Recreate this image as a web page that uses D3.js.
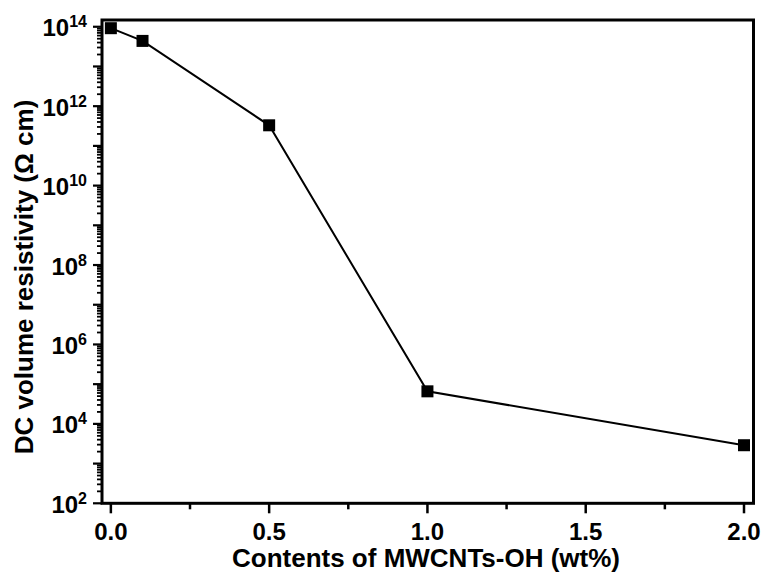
<!DOCTYPE html>
<html>
<head>
<meta charset="utf-8">
<script src="https://cdn.jsdelivr.net/npm/d3@7"></script>
<style>
  body { margin: 0; background: #fff; }
  text { font-family: "Liberation Sans", Arial, sans-serif; font-weight: bold; fill: #000; }
</style>
</head>
<body>
<svg width="765" height="572"></svg>
<script>
// data
const contents = [0.0, 0.1, 0.5, 1.0, 2.0];
const resistivity = [9.2e13, 4.4e13, 3.3e11, 6.6e4, 2.9e3];
const xTicks = [0.0, 0.5, 1.0, 1.5, 2.0];
const xMinor = [0.25, 0.75, 1.25, 1.75];
const yLabelExp = [2, 4, 6, 8, 10, 12, 14];

const svg = d3.select("svg");
const mLeft = 102, mRight = 753.5, mTop = 20, mBottom = 503.3;

const x = d3.scaleLinear().domain([-0.028, 2.03]).range([mLeft, mRight]);
const y = d3.scaleLog().domain([1e2, Math.pow(10, 14.17)]).range([mBottom, mTop]);

// y ticks: every decade long, 2..9 short
const yMajor = d3.range(2, 15).map(e => Math.pow(10, e));
const yMinor = [];
for (let e = 2; e < 15; e++) {
  for (let m = 2; m <= 9; m++) {
    const v = m * Math.pow(10, e);
    if (v <= y.domain()[1]) yMinor.push(v);
  }
}

const g = svg.append("g");

g.selectAll(".ymaj").data(yMajor).enter().append("line")
  .attr("x1", mLeft - 9).attr("x2", mLeft)
  .attr("y1", d => y(d)).attr("y2", d => y(d))
  .attr("stroke", "#000").attr("stroke-width", 2.2);

g.selectAll(".ymin").data(yMinor).enter().append("line")
  .attr("x1", mLeft - 5).attr("x2", mLeft)
  .attr("y1", d => y(d)).attr("y2", d => y(d))
  .attr("stroke", "#000").attr("stroke-width", 1.8);

// y tick labels with superscripts
const yl = g.selectAll(".ylab").data(yLabelExp).enter().append("text")
  .attr("text-anchor", "end")
  .attr("x", mLeft - 15)
  .attr("y", d => y(Math.pow(10, d)) + 9.5)
  .style("font-size", "24px");
yl.append("tspan").text("10");
yl.append("tspan").attr("dy", -9).style("font-size", "16px").text(d => d);

// x ticks
g.selectAll(".xmaj").data(xTicks).enter().append("line")
  .attr("x1", d => x(d)).attr("x2", d => x(d))
  .attr("y1", mBottom).attr("y2", mBottom + 10)
  .attr("stroke", "#000").attr("stroke-width", 2.5);
g.selectAll(".xmin").data(xMinor).enter().append("line")
  .attr("x1", d => x(d)).attr("x2", d => x(d))
  .attr("y1", mBottom).attr("y2", mBottom + 6)
  .attr("stroke", "#000").attr("stroke-width", 2.5);
g.selectAll(".xlab").data(xTicks).enter().append("text")
  .attr("text-anchor", "middle")
  .attr("x", d => x(d))
  .attr("y", mBottom + 37)
  .style("font-size", "24px")
  .text(d => d.toFixed(1));

// frame
svg.append("rect")
  .attr("x", mLeft).attr("y", mTop)
  .attr("width", mRight - mLeft).attr("height", mBottom - mTop)
  .attr("fill", "none").attr("stroke", "#000").attr("stroke-width", 3);

// line + squares
const pts = contents.map((c, i) => [c, resistivity[i]]);
svg.append("path")
  .datum(pts)
  .attr("fill", "none").attr("stroke", "#000").attr("stroke-width", 2)
  .attr("d", d3.line().x(d => x(d[0])).y(d => y(d[1])));

svg.selectAll(".pt").data(pts).enter().append("rect")
  .attr("x", d => x(d[0]) - 6).attr("y", d => y(d[1]) - 6)
  .attr("width", 12).attr("height", 12)
  .attr("fill", "#000");

// axis titles
svg.append("text")
  .attr("text-anchor", "middle")
  .attr("x", 426).attr("y", 567)
  .style("font-size", "26px")
  .text("Contents of MWCNTs-OH (wt%)");

svg.append("text")
  .attr("text-anchor", "middle")
  .attr("transform", "translate(33,277) rotate(-90)")
  .style("font-size", "26px")
  .text("DC volume resistivity (\u03A9 cm)");
</script>
</body>
</html>
